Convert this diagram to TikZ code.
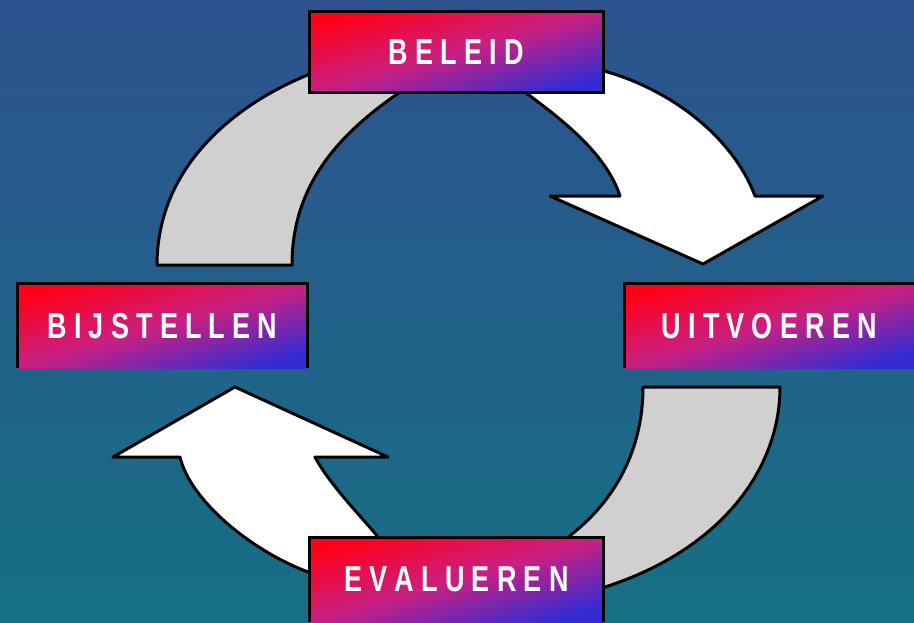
\documentclass[tikz,border=0pt]{standalone}
\usepackage{graphicx}
\usepackage{fontspec}
\setmainfont{Liberation Sans}
\definecolor{bgtop}{RGB}{45,82,142}
\definecolor{bgbot}{RGB}{22,112,132}
\definecolor{bred}{RGB}{255,0,24}
\definecolor{bmid}{RGB}{200,32,130}
\definecolor{bblue}{RGB}{52,44,210}
\definecolor{bandgray}{RGB}{208,208,208}
\newcommand\lspace{9.6pt}
\def\spcA#1{\ifx\relax#1\else #1\expandafter\spcC\fi}
\def\spcC#1{\ifx\relax#1\else\kern\lspace #1\expandafter\spcC\fi}
\newcommand\lbl[1]{\scalebox{0.75}[1]{\fontsize{36}{36}\selectfont\bfseries\spcA#1\relax}}
\begin{document}
\begin{tikzpicture}[x=1pt,y=-1pt,
  boxstyle/.style={shade, top color=bred, bottom color=bblue, middle color=bmid,
    shading angle=16, inner sep=0pt, outer sep=0pt, text=white},
  edgeline/.style={line width=3pt, black, line join=miter},
  arrowshape/.style={draw=black, line width=3pt, line join=round, fill=white},
  bandshape/.style={draw=black, line width=3pt, line join=round, fill=bandgray}]
\useasboundingbox (0,0) rectangle (914,622);
\clip (0,0) rectangle (914,622);
\shade[top color=bgtop, bottom color=bgbot] (0,0) rectangle (914,622);

% top-left grey band
\draw[bandshape] (292,265) .. controls (292,180) and (345,130) .. (400,92)
  -- (330,40) -- (315,72) .. controls (230,105) and (157,170) .. (157,265) -- cycle;
% top-right white arrow
\draw[arrowshape] (525,92) .. controls (555,115) and (605,150) .. (620,196)
  -- (550,196) -- (703,264) -- (823,196) -- (755,196)
  .. controls (730,130) and (660,85) .. (600,70) -- (520,80) -- cycle;
% bottom-right grey band
\draw[bandshape] (643,387) -- (780,387) .. controls (780,470) and (720,550) .. (605,587)
  -- (590,600) -- (560,545) -- (572,534) .. controls (615,500) and (643,450) .. (643,387) -- cycle;
% bottom-left white arrow
\draw[arrowshape] (235,387) -- (388,457) -- (315,457)
  .. controls (330,485) and (360,515) .. (378,537) -- (320,560) -- (308,572)
  .. controls (250,550) and (190,500) .. (180,457) -- (113,457) -- cycle;

% boxes
\node[boxstyle, minimum width=294pt, minimum height=81pt] (beleid) at (456.5,52) {\lbl{BELEID}};
\draw[edgeline] (beleid.south west) rectangle (beleid.north east);

\node[boxstyle, minimum width=290pt, minimum height=84.5pt] (bijst) at (162.5,325.75) {\lbl{BIJSTELLEN}};
\draw[edgeline] (bijst.south west) -- (bijst.north west) -- (bijst.north east) -- (bijst.south east);

\node[boxstyle, minimum width=289.5pt, minimum height=84.5pt] (uitv) at (769.25,325.75) {\lbl{UITVOEREN}};
\draw[edgeline] (uitv.south west) -- (uitv.north west) -- ([xshift=10pt]uitv.north east);

\node[boxstyle, minimum width=294pt, minimum height=84.5pt] (evalu) at (456.5,579.75) {\lbl{EVALUEREN}};
\draw[edgeline] (evalu.south west) -- (evalu.north west) -- (evalu.north east) -- (evalu.south east);
\end{tikzpicture}
\end{document}
